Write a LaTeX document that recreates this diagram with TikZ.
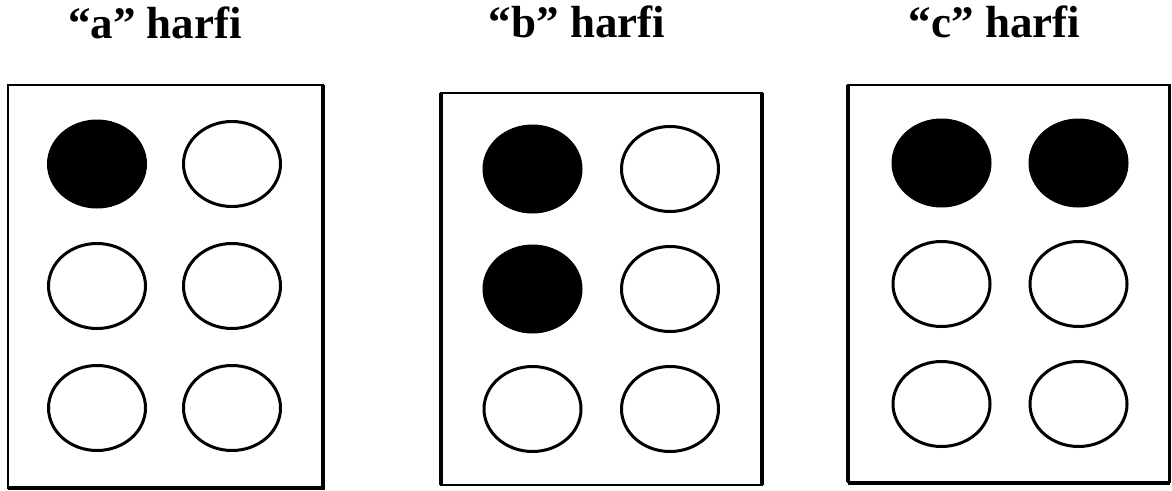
\documentclass[tikz,border=0pt]{standalone}
\usepackage{fontspec}
\setmainfont{Liberation Serif}
\usetikzlibrary{shapes.geometric}
\begin{document}
\begin{tikzpicture}[x=1pt,y=-1pt,
  dotfull/.style={ellipse, fill=black, draw=black, line width=1pt, minimum width=99pt, minimum height=88pt, inner sep=0pt},
  dotopen/.style={ellipse, draw=black, line width=3pt, minimum width=97pt, minimum height=85pt, inner sep=0pt},
  title/.style={font=\fontsize{45}{54}\selectfont\bfseries, anchor=base, inner sep=0pt},
  frame/.style={draw=black, line width=2pt},
  thickside/.style={draw=black, line width=3.5pt, line cap=square}]
\useasboundingbox (0,0) rectangle (1172,490);
\fill[white] (0,0) rectangle (1172,490);

% titles
\node[title] (ta) at (155,38) {“a” harfi};
\node[title] (tb) at (577,37) {“b” harfi};
\node[title] (tc) at (994.5,37) {“c” harfi};

% frames
\draw[frame] (8,85) coordinate (a1) rectangle (323,488) coordinate (a2);
\draw[thickside] (323,85) -- (323,488) -- (8,488);

\draw[frame] (441,93) coordinate (b1) rectangle (762,485) coordinate (b2);
\draw[thickside] (441,485) -- (441,93);
\draw[thickside] (762,93) -- (762,485);

\draw[frame] (848,85) coordinate (c1) rectangle (1170,482) coordinate (c2);
\draw[thickside] (848,482) -- (848,85);
\draw[thickside] (1169.5,85) -- (1169.5,482);
\draw[draw=black, line width=4pt] (848,482.5) -- (1170,482.5);

% letter a
\node[dotfull] (a11) at (97,164) {};
\node[dotopen] (a12) at (232,164) {};
\node[dotopen] (a21) at (97,286) {};
\node[dotopen] (a22) at (232,286) {};
\node[dotopen] (a31) at (97,408) {};
\node[dotopen] (a32) at (232,408) {};

% letter b
\node[dotfull] (b11) at (532.5,169) {};
\node[dotopen] (b12) at (670,169) {};
\node[dotfull] (b21) at (532.5,289) {};
\node[dotopen] (b22) at (670,289) {};
\node[dotopen] (b31) at (532.5,409) {};
\node[dotopen] (b32) at (670,409) {};

% letter c
\node[dotfull] (c11) at (941.5,163) {};
\node[dotfull] (c12) at (1078.5,163) {};
\node[dotopen] (c21) at (941.5,284) {};
\node[dotopen] (c22) at (1078.5,284) {};
\node[dotopen] (c31) at (941.5,404) {};
\node[dotopen] (c32) at (1078.5,404) {};
\end{tikzpicture}
\end{document}
